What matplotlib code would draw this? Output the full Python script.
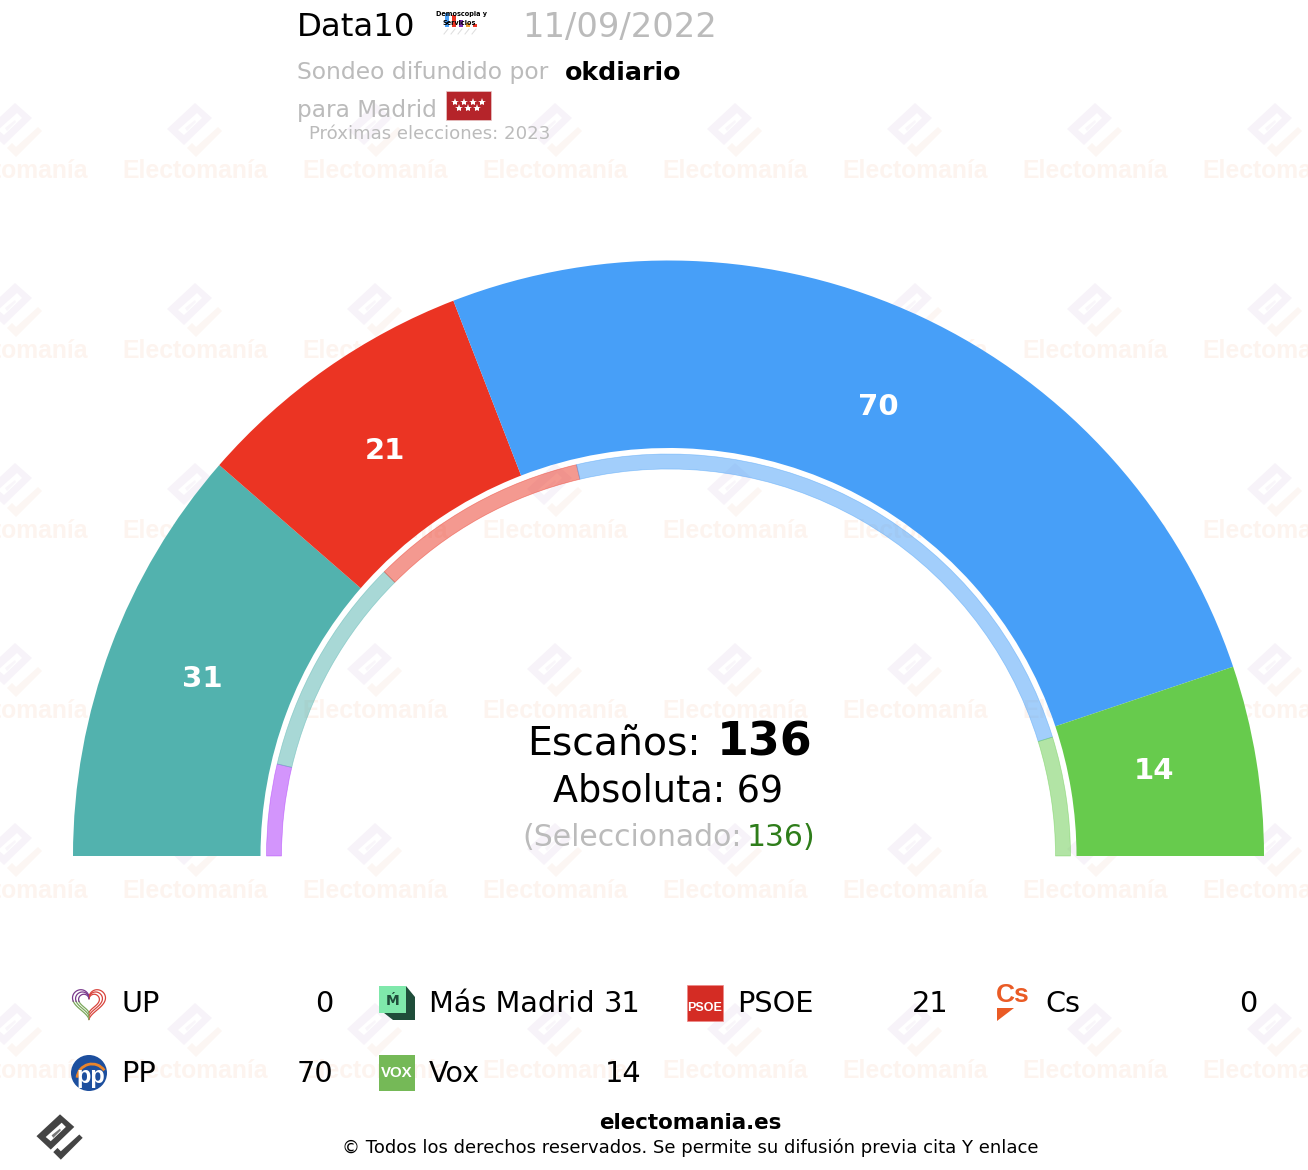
# -*- coding: utf-8 -*-
"""
Hemiciclo de escaños, sondeo Data10 para Madrid
"""

import numpy as np
import matplotlib
matplotlib.use("Agg")
import matplotlib.pyplot as plt
from matplotlib.patches import Wedge, Polygon, Rectangle, Circle, Arc

partidos = ["UP", "Más Madrid", "PSOE", "Cs", "PP", "Vox"]
escanos = [0, 31, 21, 0, 70, 14]
escanos_previos = [10, 24, 24, 0, 65, 13]
colores = ["#a82dfb", "#52b2ae", "#eb3423", "#f0702a", "#479ff8", "#67cb4d"]

total = 136
absoluta = 69
seleccionado = 136

ANCHO, ALTO = 1308, 1170
fig = plt.figure(figsize=(ANCHO / 100, ALTO / 100), dpi=100)
ax = fig.add_axes([0, 0, 1, 1])
ax.set_xlim(0, ANCHO)
ax.set_ylim(ALTO, 0)   # coordenadas de pixel, y hacia abajo
ax.axis("off")

NEGRO = "#000000"
GRIS = "#bbbbbb"
cx, cy = 668.5, 856


#%% marca de agua y logo

def logo(x, y, esc, c1, c2, c3, z=1):
    cuerpo = np.array([[0, -27], [17, -12], [-11, 15], [-28, -1]], float)
    ranura = np.array([[-17, 0], [2, -17], [7, -12], [-11, 5]], float)
    barra = np.array([[-10, -2], [0, -10], [1, -8], [-8, 1]], float)
    gancho = np.array([[23, -3], [27, 1], [1, 27], [-8, 18], [-3, 13], [1, 17]], float)
    ax.add_patch(Polygon(np.array([x, y]) + cuerpo * esc, fc=c1, ec="none", zorder=z))
    ax.add_patch(Polygon(np.array([x, y]) + ranura * esc, fc="white", ec="none", zorder=z))
    ax.add_patch(Polygon(np.array([x, y]) + barra * esc, fc=c3, ec="none", zorder=z))
    ax.add_patch(Polygon(np.array([x, y]) + gancho * esc, fc=c2, ec="none", zorder=z))


for fila in range(170, 1071, 180):
    for col in range(15, 1276, 180):
        logo(col, fila - 40, 1, "#f7f3f9", "#fcf6f3", "#f9f6fa")
        ax.text(col, fila + 1, "Electomanía", family="Liberation Sans", weight="bold",
                fontsize=17.8, color="#fdf4ef", ha="center", va="center", zorder=1)

logo(60, 1137, 0.84, "#444444", "#444444", "#777777", z=3)


#%% hemiciclo: anillo exterior (sondeo) e interior (anteriores)

ajuste_etiq = [(0, 0), (0, -2), (3, 3), (0, 0), (-2, 2), (-6, -5)]

k = 180 / total
acum = 0
for i, n in enumerate(escanos):
    if n > 0:
        ax.add_patch(Wedge((cx, cy), 595.5, 180 + acum * k, 180 + (acum + n) * k,
                           width=187.5, fc=colores[i], ec="none", zorder=2))
        medio = np.radians(180 + (acum + n / 2) * k)
        ax.text(cx + 498 * np.cos(medio) + ajuste_etiq[i][0], cy + 498 * np.sin(medio) + ajuste_etiq[i][1],
                str(n), color="white", weight="bold", fontsize=21, ha="center", va="center", zorder=4)
    acum += n

acum = 0
for i, n in enumerate(escanos_previos):
    if n > 0:
        ax.add_patch(Wedge((cx, cy), 402, 180 + acum * k, 180 + (acum + n) * k,
                           width=15, fc=colores[i], ec=colores[i], lw=0.5, alpha=0.5, zorder=2))
    acum += n


#%% textos centrales

ax.text(527, 744, "Escaños:", fontsize=28.4, color=NEGRO, va="center", zorder=5)
ax.text(717, 743, str(total), fontsize=33, weight="bold", color=NEGRO, va="center", zorder=5)
ax.text(668, 791, "Absoluta: %d" % absoluta, fontsize=26.3, color=NEGRO, ha="center", va="center", zorder=5)
ax.text(522, 837, "(Seleccionado:", fontsize=21.5, color=GRIS, va="center", zorder=5)
ax.text(747, 837, str(seleccionado), fontsize=21.5, color="#2e7d1a", va="center", zorder=5)
ax.text(814, 837, ")", fontsize=21.5, color="#2e7d1a", ha="right", va="center", zorder=5)


#%% cabecera

ax.text(297, 27, "Data10", fontsize=23.3, color=NEGRO, va="center", zorder=5)
ax.text(522, 27, "11/09/2022", fontsize=24.3, color=GRIS, va="center", zorder=5)
ax.text(297, 73, "Sondeo difundido por", fontsize=16.9, color=GRIS, va="center", zorder=5)
ax.text(565, 73, "okdiario", fontsize=18.2, weight="bold", color=NEGRO, va="center", zorder=5)
ax.text(297, 110, "para Madrid", fontsize=16.7, color=GRIS, va="center", zorder=5)
ax.text(309, 134, "Próximas elecciones: 2023", fontsize=13.1, color=GRIS, va="center", zorder=5)

# bandera de Madrid
ax.add_patch(Rectangle((446, 91), 45, 29, fc="#b5242a", ec="#e8c8c8", lw=0.5, zorder=5))
for sx, sy in zip([456, 465, 474, 483, 460, 469, 478], [102, 102, 102, 102, 108, 108, 108]):
    ax.plot(sx - 1, sy, marker="*", ms=6, color="white", mew=0, zorder=6)

# logo de la encuestadora
for bx, bh, c in zip([445, 452, 459, 466, 473], [14, 12, 7, 4, 3],
                     ["#479ff8", "#eb3423", "#7b2db0", "#f0a030", "#eb3423"]):
    ax.add_patch(Rectangle((bx, 27 - bh), 4, bh, fc=c, ec="none", zorder=5))
    ax.plot([bx + 3, bx - 1], [29, 34], color="#dddddd", lw=0.7, zorder=5)
ax.text(462, 14, "Demoscopia y", fontsize=4.7, weight="bold", color=NEGRO, ha="center", va="center", zorder=6)
ax.text(459, 23, "Servicios", fontsize=4.7, weight="bold", color=NEGRO, ha="center", va="center", zorder=6)


#%% leyenda

def icono_up(x, y):
    t = np.linspace(0, 2 * np.pi, 160)
    hx = 16 * np.sin(t) ** 3
    hy = -(13 * np.cos(t) - 5 * np.cos(2 * t) - 2 * np.cos(3 * t) - np.cos(4 * t))
    for esc in [1.03, 0.84, 0.65]:
        ax.plot(x + hx[:81] * esc, y - 1 + hy[:81] * esc, color="#d8443c", lw=0.9, zorder=5)
        ax.plot(x + hx[80:116] * esc, y - 1 + hy[80:116] * esc, color="#7aa85a", lw=0.9, zorder=5)
        ax.plot(x + hx[115:] * esc, y - 1 + hy[115:] * esc, color="#7a3a8c", lw=0.9, zorder=5)


def icono_mm(x, y):
    ax.add_patch(Polygon([[x + 9, y - 17], [x + 18, y - 6], [x + 18, y + 17], [x - 4, y + 17], [x - 18, y + 6]],
                         fc="#1f4d3a", ec="none", zorder=5))
    ax.add_patch(Rectangle((x - 18, y - 17), 27, 27, fc="#7fe8ab", ec="none", zorder=6))
    ax.text(x - 4, y - 2, "Ḿ", fontsize=10, weight="bold", color="#1f4d3a", ha="center", va="center", zorder=7)


def icono_psoe(x, y):
    ax.add_patch(Rectangle((x - 18, y - 18), 36, 36, fc="#d42c24", ec="#e88", lw=0.5, zorder=5))
    ax.text(x, y + 5, "PSOE", fontsize=9, weight="bold", color="white", ha="center", va="center",
            family="Liberation Sans", zorder=6)


def icono_cs(x, y):
    ax.text(x, y - 8, "Cs", fontsize=19, weight="bold", color="#ea5b25", ha="center", va="center",
            family="Liberation Sans", zorder=5)
    ax.add_patch(Polygon([[x - 16, y + 5], [x + 1, y + 5], [x - 16, y + 18]], fc="#ea5b25", ec="none", zorder=5))


def icono_pp(x, y):
    ax.add_patch(Circle((x, y), 18, fc="#1d4f9e", ec="none", zorder=5))
    ax.add_patch(Arc((x + 3, y + 6), 30, 30, theta1=185, theta2=325, color="#e8842c", lw=2, zorder=6))
    ax.text(x + 2, y + 3, "pp", fontsize=17, weight="bold", color="white", ha="center", va="center",
            family="Liberation Sans", zorder=7)


def icono_vox(x, y):
    ax.add_patch(Rectangle((x - 18, y - 18), 36, 36, fc="#75b957", ec="none", zorder=5))
    ax.text(x, y, "VOX", fontsize=10.8, weight="bold", color="white", ha="center", va="center",
            family="Liberation Sans", zorder=6)


iconos = [icono_up, icono_mm, icono_psoe, icono_cs, icono_pp, icono_vox]

for i, nombre in enumerate(partidos):
    col, fila = i % 4, i // 4
    dx = 308 * col
    y = 1003 + 70 * fila
    iconos[i](89 + dx, y)
    ax.text(121 + dx, y + 1, nombre, fontsize=20.7, color=NEGRO, va="center", zorder=5)
    ax.text(333 + dx, y + 1, str(escanos[i]), fontsize=20.7, color=NEGRO,
            ha="right", va="center", zorder=5)


#%% pie

ax.text(690, 1123, "electomania.es", fontsize=15.4, weight="bold", color=NEGRO, ha="center", va="center", zorder=5)
ax.text(690, 1148, "© Todos los derechos reservados. Se permite su difusión previa cita Y enlace",
        fontsize=13, color=NEGRO, ha="center", va="center", zorder=5)

fig.savefig("out.png", dpi=100, facecolor="white")
